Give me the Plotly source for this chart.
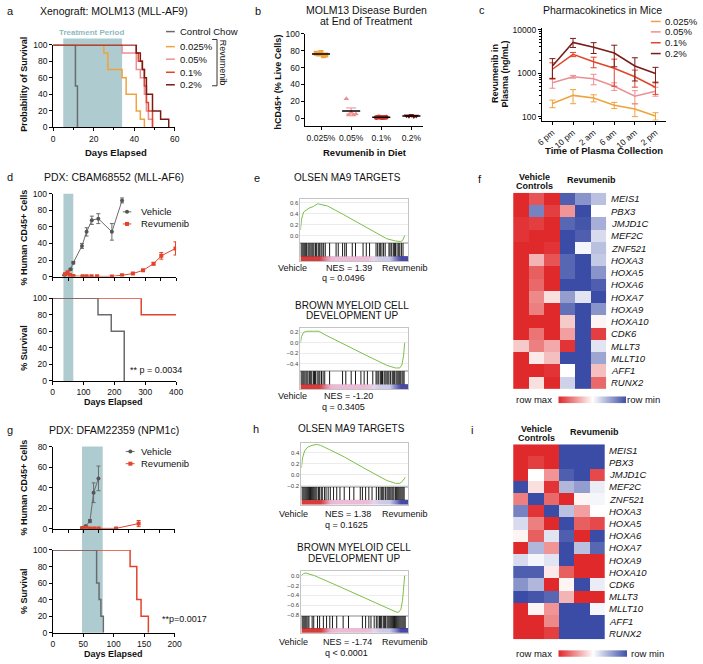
import plotly.graph_objects as go
import numpy as np

W, H = 703, 664
FONT = "Liberation Sans, Arial, sans-serif"

# ---------------- DATA ----------------
# a: survival (MOLM13 xenograft)
a_days_control = [0, 11, 12]
a_surv_control = [100, 50, 0]
a_days_025 = [0, 25, 27, 34, 36, 41, 43, 45]
a_surv_025 = [100, 90, 70, 60, 40, 20, 10, 0]
a_days_05 = [0, 34, 41, 43, 45, 46, 47, 49]
a_surv_05 = [100, 90, 70, 60, 40, 20, 10, 0]
a_days_1 = [0, 41, 42, 44, 45, 46, 47, 49]
a_surv_1 = [100, 90, 80, 70, 50, 30, 20, 0]
a_days_2 = [0, 41, 43, 44, 45, 46, 49, 53, 57]
a_surv_2 = [100, 90, 80, 70, 60, 40, 20, 10, 0]
a_treatment = [5, 34]
a_legend = ["Control Chow", "0.025%", "0.05%", "0.1%", "0.2%"]

# b: disease burden
b_groups = ["0.025%", "0.05%", "0.1%", "0.2%"]
b_vals_025 = [77, 76, 78, 74, 75]
b_vals_05 = [23, 4, 7, 4, 5]
b_vals_1 = [1.0, 1.5, 1.0, 0.8, 1.2]
b_vals_2 = [3.0, 2.5, 3.5, 2.0, 2.6]
b_jitter = [-0.16, -0.08, 0, 0.08, 0.16]

# c: pharmacokinetics
c_times = ["6 pm", "10 pm", "2 am", "6 am", "10 am", "2 pm"]
c_025 = [200, 308, 268, 183, 150, 103]
c_025_err = [40, 110, 50, 30, 50, 20]
c_05 = [600, 826, 740, 500, 295, 385]
c_05_err = [150, 60, 200, 100, 100, 90]
c_1 = [1230, 2700, 1830, 1300, 826, 475]
c_1_err = [500, 300, 500, 800, 350, 150]
c_2 = [1460, 5100, 3930, 2900, 1460, 980]
c_2_err = [700, 1200, 1100, 1500, 800, 380]

# d: PDX CBAM68552
d_veh_days = [38, 46, 58, 67, 95, 110, 127, 148, 192, 225]
d_veh_vals = [1.6, 3.6, 8.7, 16.7, 37, 54, 68, 70, 54, 92]
d_veh_err = [0.5, 1, 1, 1.5, 3, 5, 5, 6, 10, 3]
d_rev_days = [40, 49, 56, 67, 97, 110, 126, 144, 192, 225, 260, 293, 327, 352, 398]
d_rev_vals = [2.8, 4.8, 2, 0.8, 0.3, 0.3, 0.3, 0.3, 0.2, 1.6, 3.6, 7.5, 15.5, 25, 34]
d_rev_err = [1, 2, 1, 0.5, 0.3, 0.3, 0.3, 0.3, 0.3, 0.5, 1, 1, 1.5, 4, 8]
d_surv_veh_days = [0, 147, 190, 232]
d_surv_veh = [100, 80, 60, 0]
d_surv_rev_days = [0, 287, 400]
d_surv_rev = [100, 80, 80]
d_treatment = [35, 67]

# g: PDX DFAM22359
g_veh_days = [48, 54, 61, 67, 75]
g_veh_vals = [0.6, 2.4, 7.4, 35, 49]
g_veh_err = [0.3, 1, 1.5, 9.6, 12]
g_rev_days = [48, 55, 61, 68, 75, 104, 141]
g_rev_vals = [0.2, 1.0, 0.3, 0.3, 0.3, 0.3, 5]
g_rev_err = [0, 0, 0, 0, 0, 0.3, 3]
g_surv_veh_days = [0, 72, 76, 79, 83]
g_surv_veh = [100, 60, 40, 20, 0]
g_surv_rev_days = [0, 127, 138, 145, 157]
g_surv_rev = [100, 80, 40, 20, 0]
g_treatment = [48, 82]

# e / h: GSEA running enrichment (rank %, ES) and hit ranks
e1_rank = [0, 1, 3, 5, 8, 12, 16, 20, 25, 40, 60, 80, 88, 93, 95, 96.5]
e1_es = [0.1, 0.3, 0.43, 0.46, 0.5, 0.53, 0.58, 0.56, 0.54, 0.38, 0.16, -0.06, -0.1, -0.11, -0.08, 0.0]
e1_hits = [0.5, 1.5, 2.5, 3.5, 4.5, 5.5, 7, 8, 9, 10.5, 11.5, 12.5, 14, 15, 16.5, 17.5, 19, 20, 21.5, 23,
           27, 33, 35, 39, 41, 42.5, 48, 51, 58, 61, 64, 70, 71.5, 73, 74, 75.5, 77, 78.5,
           82, 83, 84.5, 86, 87, 88, 89.5, 91, 92, 93.5, 95]
e2_rank = [0, 1, 3, 6, 12, 17, 23, 40, 60, 80, 88, 92, 94, 95.5, 96.5]
e2_es = [0.0, 0.12, 0.2, 0.22, 0.22, 0.22, 0.15, -0.03, -0.23, -0.43, -0.48, -0.48, -0.42, -0.25, 0.0]
e2_hits = [0.5, 1.5, 2.5, 3.5, 5, 6, 7, 8.5, 9.5, 10.5, 12, 13, 14, 15.5, 17, 18, 19.5, 21, 22.5,
           27, 39, 42, 47, 51, 56, 59, 62, 67, 70, 71, 72.5, 74, 75, 76, 77.5, 78.5, 80, 81, 82, 83.5,
           85, 86, 87, 88.5, 89.5, 90.5, 91.5, 92.5, 94, 95, 96]
h1_rank = [0, 1, 3, 6, 10, 14, 18, 40, 60, 80, 88, 92, 95, 97]
h1_es = [0.12, 0.3, 0.43, 0.5, 0.53, 0.545, 0.53, 0.32, 0.1, -0.11, -0.16, -0.16, -0.11, -0.05]
h1_hits = [0.5, 1.5, 2.5, 3.5, 4.5, 5.5, 6.5, 7.5, 8.5, 9.5, 10.5, 11.5, 12.5, 13.5, 14.5, 16, 17, 18.5,
           19.5, 21.5, 23, 25, 27, 30, 33, 36, 40, 45, 49, 55, 57, 60, 63, 66, 70, 72, 73.5, 75, 76, 77,
           78.5, 80, 81, 82, 83, 84.5, 85.5, 86.5, 88, 89, 90, 91, 92, 93, 94, 95, 96]
h2_rank = [0, 2, 4, 8, 12, 30, 50, 70, 85, 89, 91, 93, 94.5, 95.5, 96.5]
h2_es = [0.0, 0.04, 0.05, 0.03, 0.0, -0.17, -0.36, -0.55, -0.69, -0.74, -0.74, -0.68, -0.5, -0.25, 0.0]
h2_hits = [0.5, 1.5, 2.5, 3.5, 4.5, 6, 7, 10, 11.5, 15, 17, 20.5, 23.5, 26.5, 29, 33, 39, 44, 57, 60,
           63, 65, 68, 70, 71.5, 73, 74, 75, 76.5, 77.5, 78.5, 80, 81, 82, 83, 84, 85, 86, 87, 88, 89,
           90, 91, 92, 93, 94, 95, 96, 97]
gsea_strip = [1, 1, 1, 1, 0.7, 0.35, 0.3, 0.3, 0.3, 0.3, 0.3, 0.3, 0.25, 0, -0.3, -0.35, -0.4, -0.7, -1, -1]

# f / i heatmaps (row-scaled expression, +1 = row max, -1 = row min)
genes = ["MEIS1", "PBX3", "JMJD1C", "MEF2C", "ZNF521", "HOXA3", "HOXA5", "HOXA6",
         "HOXA7", "HOXA9", "HOXA10", "CDK6", "MLLT3", "MLLT10", "AFF1", "RUNX2"]
f_vals = [
    [1, 0.8, 1, -0.9, -0.6, -0.35],
    [1, -0.7, 0.9, 0.5, -1, 0],
    [0.95, 0.9, 1, -0.85, -0.95, -0.45],
    [0.95, 1, 1, -1, -0.9, -0.2],
    [1, 1, 0.95, -1, -0.05, -0.35],
    [1, 0.35, 0.8, -0.85, -1, -0.3],
    [1, 0.75, 1, -0.85, -1, -0.6],
    [1, 0.7, 1, -1, -1, -0.9],
    [1, 0.55, 0.15, -0.55, -0.15, -1],
    [1, 0.6, 1, -0.8, -1, -0.6],
    [1, 1, 1, 0.25, -1, 0.05],
    [1, 0.65, 1, 0.45, -1, 0.9],
    [0.25, 0.6, 0.4, 0.95, -1, -0.15],
    [1, 0.1, 0.3, -1, -1, -0.5],
    [1, 1, 0.95, 0, -1, 0.3],
    [1, 0.15, 1, -0.25, -1, 0.7],
]
i_vals = [
    [1, 1, 1, -1, -1, -1],
    [1, 0.9, 1, -1, -1, -1],
    [1, 0, 0.5, -0.9, -1, 0.85],
    [-1, 0.15, 0.95, -0.4, -0.55, -0.1],
    [0.6, -1, 0.7, 1, 0.05, -0.05],
    [-0.7, 0.95, -1, -0.35, 0.45, 0],
    [-0.2, 0.6, 1, -1, 0.75, 0.85],
    [0.05, 0.75, -0.15, -0.9, 1, -1],
    [1, -0.4, 0.5, -1, -0.35, -0.85],
    [-0.2, -0.05, -0.15, -1, 1, 1],
    [-0.9, -0.9, 0.1, 0.75, 1, 1],
    [-0.6, -0.4, 1, 0.05, -1, -0.1],
    [-1, -0.95, -0.85, 0.35, 1, 1],
    [1, 0.05, 0.5, -1, -1, -0.05],
    [1, 1, 0.55, -1, -1, -1],
    [1, 1, 0.9, -1, -1, -1],
]

# ---------------- STYLE ----------------
GRAY = "#6a6b6e"
ORANGE = "#f0a23c"
PINK = "#ec8f94"
RED = "#e2432b"
DARK = "#7a1b17"
TEAL = "#aecbcf"
GREEN = "#7cbf4a"
HM_SCALE = [[0, "#3b4ca6"], [0.5, "#ffffff"], [1, "#e0292b"]]
STRIP_SCALE = [[0, "#4848a8"], [0.3, "#c8c8e8"], [0.5, "#e6d6ea"], [0.65, "#ecbcd6"],
               [0.8, "#e08ea6"], [1, "#d63c3c"]]

fig = go.Figure()
lay = {}
shapes = []
anns = []

base = dict(showline=True, linecolor="black", linewidth=1, ticks="outside", ticklen=3,
            tickwidth=1, tickcolor="black", showgrid=False, zeroline=False,
            tickfont=dict(family=FONT, size=8.5, color="#111"), fixedrange=True)


def axes(n, xd, yd, xkw=None, ykw=None):
    xs = "xaxis" if n == 1 else f"xaxis{n}"
    ys = "yaxis" if n == 1 else f"yaxis{n}"
    xr = "x" if n == 1 else f"x{n}"
    yr = "y" if n == 1 else f"y{n}"
    xa = dict(base)
    xa.update(domain=[xd[0] / W, xd[1] / W], anchor=yr)
    ya = dict(base)
    ya.update(domain=[1 - yd[1] / H, 1 - yd[0] / H], anchor=xr)
    if xkw:
        xa.update(xkw)
    if ykw:
        ya.update(ykw)
    lay[xs] = xa
    lay[ys] = ya
    return xr, yr


def T(text, x, y, size=9, color="#111", xanchor="center", angle=0):
    anns.append(dict(text=text, x=x / W, y=1 - y / H, xref="paper", yref="paper",
                     showarrow=False, xanchor=xanchor, yanchor="middle", textangle=angle,
                     borderpad=0, font=dict(family=FONT, size=size, color=color)))


def shade(xref, x0, x1, ytop, ybot):
    shapes.append(dict(type="rect", xref=xref, yref="paper", x0=x0, x1=x1,
                       y0=1 - ybot / H, y1=1 - ytop / H, fillcolor=TEAL,
                       line=dict(width=0), layer="below"))


# ---------------- a ----------------
xa, ya = axes(1, (48, 172), (40.3, 124.3),
              dict(range=[0, 60], dtick=20, tick0=0,
                   minor=dict(dtick=10, ticks="outside", ticklen=2, tickcolor="black")),
              dict(range=[0, 100], dtick=20))
shade(xa, a_treatment[0], a_treatment[1], 34, 124.3)
for d, s, c in [(a_days_control, a_surv_control, GRAY), (a_days_025, a_surv_025, ORANGE),
                (a_days_05, a_surv_05, PINK), (a_days_1, a_surv_1, RED), (a_days_2, a_surv_2, DARK)]:
    fig.add_trace(go.Scatter(x=d, y=s, mode="lines", line=dict(color=c, width=1.5, shape="hv"),
                             xaxis=xa, yaxis=ya))
T("a", 5, 6, 11)
T("Xenograft: MOLM13 (MLL-AF9)", 110, 6, 10.5)
T("<b>Treatment Period</b>", 87, 28, 8, color="#8fb9bd")
T("<b>Probability of Survival</b>", 18.3, 80, 9, angle=-90)
T("<b>Days Elapsed</b>", 112, 149.5, 9.5)
T("Revumenib", 221, 58.5, 9, angle=90)

# ---------------- b ----------------
xb, yb = axes(2, (305, 425), (29.3, 123.3),
              dict(range=[-0.52, 3.39], tickvals=[0, 1, 2, 3], ticktext=b_groups),
              dict(range=[-9.7, 100], tickvals=[0, 20, 40, 60, 80, 100]))
for i, (vals, sym, col) in enumerate([(b_vals_025, "square", ORANGE), (b_vals_05, "triangle-up", PINK),
                                      (b_vals_1, "circle", "#c8322a"), (b_vals_2, "triangle-down", DARK)]):
    fig.add_trace(go.Scatter(x=[i + j for j in b_jitter], y=vals, mode="markers",
                             marker=dict(symbol=sym, size=5, color=col), xaxis=xb, yaxis=yb))
    m = float(np.mean(vals))
    sem = float(np.std(vals, ddof=1) / np.sqrt(len(vals)))
    fig.add_trace(go.Scatter(x=[i], y=[m], mode="markers", marker=dict(size=1, opacity=0),
                             error_y=dict(type="data", array=[sem], color=col, thickness=1, width=5),
                             xaxis=xb, yaxis=yb))
    fig.add_trace(go.Scatter(x=[i - 0.3, i + 0.3], y=[m, m], mode="lines",
                             line=dict(color="black", width=1.5), xaxis=xb, yaxis=yb))
T("b", 257, 6, 11)
T("MOLM13 Disease Burden", 367, 5, 10.5)
T("at End of Treatment", 367, 16, 10.5)
T("<b>hCD45+ (% Live Cells)</b>", 276.7, 78, 9, angle=-90)
T("<b>Revumenib in Diet</b>", 366, 149.5, 9.5)

# ---------------- c ----------------
xc, yc = axes(3, (546, 672), (23.3, 117.3),
              dict(range=[-0.51, 5.49], tickvals=list(range(6)), ticktext=c_times, tickangle=-40),
              dict(type="log", range=[1.91, 4.04], tickvals=[100, 1000, 10000],
                   ticktext=["100", "1000", "10000"],
                   minor=dict(ticks="outside", ticklen=2, tickcolor="black", dtick="D1")))
for vals, err, col in [(c_025, c_025_err, ORANGE), (c_05, c_05_err, PINK), (c_1, c_1_err, RED),
                       (c_2, c_2_err, DARK)]:
    fig.add_trace(go.Scatter(x=list(range(6)), y=vals, mode="lines", line=dict(color=col, width=1.5),
                             error_y=dict(type="data", array=err, color=col, thickness=1, width=3),
                             xaxis=xc, yaxis=yc))
T("c", 485, 5, 11)
T("Pharmacokinetics in Mice", 608, 5.5, 10.5)
T("<b>Revumenib in</b>", 498.3, 70, 9, angle=-90)
T("<b>Plasma (ng/mL)</b>", 508, 70, 9, angle=-90)
T("<b>Time of Plasma Collection</b>", 609, 147.5, 9.5)

# ---------------- d ----------------
xd1, yd1 = axes(4, (47.5, 173.3), (191.7, 275.7),
                dict(range=[0, 400], dtick=50, showticklabels=False),
                dict(range=[0, 100], dtick=20))
xd2, yd2 = axes(5, (47.5, 173.3), (297.7, 381.7),
                dict(range=[0, 400], dtick=100), dict(range=[0, 100], dtick=20))
shade(xd2, d_treatment[0], d_treatment[1], 191.7, 381.7)
fig.add_trace(go.Scatter(x=d_veh_days, y=d_veh_vals, mode="lines+markers",
                         line=dict(color=GRAY, width=1), marker=dict(size=4, color="#555"),
                         error_y=dict(type="data", array=d_veh_err, color=GRAY, thickness=1, width=2),
                         xaxis=xd1, yaxis=yd1))
fig.add_trace(go.Scatter(x=d_rev_days, y=d_rev_vals, mode="lines+markers",
                         line=dict(color=RED, width=1), marker=dict(size=4, symbol="square", color=RED),
                         error_y=dict(type="data", array=d_rev_err, color=RED, thickness=1, width=2),
                         xaxis=xd1, yaxis=yd1))
fig.add_trace(go.Scatter(x=d_surv_rev_days, y=d_surv_rev, mode="lines",
                         line=dict(color=RED, width=1.5, shape="hv"), xaxis=xd2, yaxis=yd2))
fig.add_trace(go.Scatter(x=d_surv_veh_days, y=d_surv_veh, mode="lines",
                         line=dict(color=GRAY, width=1.5, shape="hv"), xaxis=xd2, yaxis=yd2))
T("d", 4, 175, 11)
T("PDX: CBAM68552 (MLL-AF6)", 110, 175, 10.5)
T("<b>% Human CD45+ Cells</b>", 18.3, 236, 9, angle=-90)
T("<b>% Survival</b>", 18.3, 348, 9, angle=-90)
T("<b>Days Elapsed</b>", 110, 402.8, 9)
T("Vehicle", 136.7, 210, 9.5, xanchor="left")
T("Revumenib", 136.7, 222.3, 9.5, xanchor="left")
T("** p = 0.0034", 153.3, 371, 9)

# ---------------- g ----------------
xg1, yg1 = axes(12, (47.7, 171.7), (448.3, 531.7),
                dict(range=[0, 200], dtick=25, showticklabels=False),
                dict(range=[0, 80], dtick=20))
xg2, yg2 = axes(13, (47.7, 171.7), (553.3, 637.3),
                dict(range=[0, 200], dtick=50), dict(range=[0, 100], dtick=20))
shade(xg2, g_treatment[0], g_treatment[1], 448.3, 637.3)
fig.add_trace(go.Scatter(x=g_veh_days, y=g_veh_vals, mode="lines+markers",
                         line=dict(color=GRAY, width=1), marker=dict(size=4, color="#555"),
                         error_y=dict(type="data", array=g_veh_err, color=GRAY, thickness=1, width=2),
                         xaxis=xg1, yaxis=yg1))
fig.add_trace(go.Scatter(x=g_rev_days, y=g_rev_vals, mode="lines+markers",
                         line=dict(color=RED, width=1), marker=dict(size=4, symbol="square", color=RED),
                         error_y=dict(type="data", array=g_rev_err, color=RED, thickness=1, width=2),
                         xaxis=xg1, yaxis=yg1))
fig.add_trace(go.Scatter(x=g_surv_rev_days, y=g_surv_rev, mode="lines",
                         line=dict(color=RED, width=1.5, shape="hv"), xaxis=xg2, yaxis=yg2))
fig.add_trace(go.Scatter(x=g_surv_veh_days, y=g_surv_veh, mode="lines",
                         line=dict(color=GRAY, width=1.5, shape="hv"), xaxis=xg2, yaxis=yg2))
T("g", 4, 431.7, 11)
T("PDX: DFAM22359 (NPM1c)", 110, 431.7, 10.5)
T("<b>% Human CD45+ Cells</b>", 18.3, 490, 9, angle=-90)
T("<b>% Survival</b>", 18.3, 595, 9, angle=-90)
T("<b>Days Elapsed</b>", 110, 658.8, 9)
T("Vehicle", 136.7, 453.3, 9.5, xanchor="left")
T("Revumenib", 136.7, 465.7, 9.5, xanchor="left")
T("**p=0.0017", 181.7, 623.3, 9)

# ---------------- GSEA (e, h) ----------------
gfont = dict(family=FONT, size=6, color="#444")
box = dict(linecolor="#c4c4c4", mirror=True, ticks="")


def gsea(n, xd, ytop, ymid, ybot, yrange, yticks, rank, es, hits):
    xr1, yr1 = axes(n, xd, (ytop, ymid), dict(range=[0, 100], showticklabels=False, **box),
                    dict(range=yrange, tickvals=yticks, tickformat=".1f", showgrid=True,
                         gridcolor="#ececec", tickfont=gfont, **box))
    xr2, yr2 = axes(n + 1, xd, (ymid, ybot), dict(range=[0, 100], showticklabels=False, **box),
                    dict(range=[0, 1], showticklabels=False, **box))
    fig.add_trace(go.Scatter(x=rank, y=es, mode="lines", line=dict(color=GREEN, width=1),
                             xaxis=xr1, yaxis=yr1))
    hx, hy = [], []
    for h in hits:
        hx += [h, h, None]
        hy += [0.26, 1, None]
    fig.add_trace(go.Scatter(x=hx, y=hy, mode="lines", line=dict(color="black", width=0.9),
                             xaxis=xr2, yaxis=yr2))
    fig.add_trace(go.Heatmap(z=[gsea_strip, gsea_strip], x=list(np.arange(2.5, 100, 5)),
                             y=[0.05, 0.2], zmin=-1, zmax=1, colorscale=STRIP_SCALE,
                             zsmooth="best", showscale=False, xaxis=xr2, yaxis=yr2))


gsea(6, (300, 410), 197.3, 241.7, 260, [-0.138, 0.66], [0, 0.2, 0.4, 0.6], e1_rank, e1_es, e1_hits)
gsea(8, (300, 410), 328.3, 371.7, 390, [-0.54, 0.275], [-0.4, -0.2, 0, 0.2], e2_rank, e2_es, e2_hits)
gsea(14, (301, 410), 445, 489, 507.3, [-0.22, 0.567], [-0.2, 0, 0.2, 0.4], h1_rank, h1_es, h1_hits)
gsea(16, (301, 410), 575, 620, 637.3, [-0.81, 0.085], [-0.8, -0.6, -0.4, -0.2, 0], h2_rank, h2_es, h2_hits)

T("e", 256, 176, 11)
T("OLSEN MA9 TARGETS", 348, 175, 10)
T("Vehicle", 292, 267.3, 9)
T("NES = 1.39", 349, 267.3, 9)
T("Revumenib", 407, 267.3, 9)
T("q = 0.0496", 344, 277.3, 9)
T("BROWN MYELOID CELL", 353, 305, 10)
T("DEVELOPMENT UP", 353, 315.7, 10)
T("Vehicle", 292, 396.7, 9)
T("NES = -1.20", 349, 396.7, 9)
T("q = 0.3405", 344, 407.7, 9)

T("h", 255, 430, 11)
T("OLSEN MA9 TARGETS", 352, 430, 10)
T("Vehicle", 293, 516.7, 9)
T("NES = 1.38", 348, 516.7, 9)
T("Revumenib", 407, 516.7, 9)
T("q = 0.1625", 347, 527.7, 9)
T("BROWN MYELOID CELL", 355, 551, 10)
T("DEVELOPMENT UP", 355, 561.7, 10)
T("Vehicle", 293, 646.7, 9)
T("NES = -1.74", 348, 646.7, 9)
T("Revumenib", 407, 646.7, 9)
T("q &lt; 0.0001", 347, 657.5, 9)

# ---------------- heatmaps (f, i) ----------------
hid = dict(visible=False)


def heat(n, xd, yd, vals, grad_xd, grad_yd):
    xr, yr = axes(n, xd, yd, dict(range=[-0.5, 5.5], **hid), dict(range=[15.5, -0.5], **hid))
    fig.add_trace(go.Heatmap(z=vals, x=list(range(6)), y=list(range(16)), zmin=-1, zmax=1,
                             colorscale=HM_SCALE, showscale=False, xaxis=xr, yaxis=yr))
    rowh = (yd[1] - yd[0]) / len(genes)
    for k, gname in enumerate(genes):
        T("<i>" + gname + "</i>", xd[1] + 3.5, yd[0] + rowh * (k + 0.5), 9.5, xanchor="left")
    xr2, yr2 = axes(n + 1, grad_xd, grad_yd, dict(range=[0, 1], **hid), dict(range=[0, 1], **hid))
    fig.add_trace(go.Heatmap(z=[[1, -1], [1, -1]], x=[0, 1], y=[0, 1], zmin=-1, zmax=1,
                             colorscale=HM_SCALE, zsmooth="best", showscale=False,
                             xaxis=xr2, yaxis=yr2))


heat(10, (516.7, 611.7), (190.7, 390), f_vals, (562.7, 631.7), (397.3, 404.3))
heat(18, (516.7, 610), (446, 644), i_vals, (562.7, 632.7), (655, 661.7))

T("f", 483, 177, 11)
T("<b>Vehicle</b>", 538.3, 175, 9)
T("<b>Controls</b>", 538.3, 184, 9)
T("<b>Revumenib</b>", 596.7, 177.3, 9)
T("row max", 538.3, 400.7, 9.5)
T("row min", 650, 400.7, 9.5)

T("i", 475, 431.7, 11)
T("<b>Vehicle</b>", 540.7, 430, 9)
T("<b>Controls</b>", 540.7, 439.3, 9)
T("<b>Revumenib</b>", 600, 433.3, 9)
T("row max", 538.3, 658, 9.5)
T("row min", 654, 658, 9.5)

# ---------------- legends (pixel overlay) ----------------
xo, yo = axes(20, (0, W), (0, H), dict(range=[0, W], **hid), dict(range=[H, 0], **hid))
for lbl, yy, col in zip(a_legend, [27, 42.3, 55, 68.3, 81], [GRAY, ORANGE, PINK, RED, DARK]):
    fig.add_trace(go.Scatter(x=[163, 172], y=[yy, yy], mode="lines", line=dict(color=col, width=1.5),
                             xaxis=xo, yaxis=yo))
    T(lbl, 176, yy, 9.5, xanchor="left")
fig.add_trace(go.Scatter(x=[210, 215, 215, 210], y=[35, 35, 82, 82], mode="lines",
                         line=dict(color="#333", width=1), xaxis=xo, yaxis=yo))
for lbl, yy, col in zip(b_groups, [16.7, 27.3, 38.3, 49.3], [ORANGE, PINK, RED, DARK]):
    fig.add_trace(go.Scatter(x=[657, 667], y=[yy, yy], mode="lines", line=dict(color=col, width=1.5),
                             xaxis=xo, yaxis=yo))
    T(lbl, 670, yy, 9.5, xanchor="left")
for (x0, x1, xm), ys in [((119, 127.7, 123.3), (210, 222.3)), ((122, 131, 126.7), (453.3, 465.7))]:
    fig.add_trace(go.Scatter(x=[x0, x1], y=[ys[0], ys[0]], mode="lines", line=dict(color=GRAY, width=1),
                             xaxis=xo, yaxis=yo))
    fig.add_trace(go.Scatter(x=[xm], y=[ys[0]], mode="markers", marker=dict(size=4, color="#555"),
                             xaxis=xo, yaxis=yo))
    fig.add_trace(go.Scatter(x=[x0, x1], y=[ys[1], ys[1]], mode="lines", line=dict(color=RED, width=1),
                             xaxis=xo, yaxis=yo))
    fig.add_trace(go.Scatter(x=[xm], y=[ys[1]], mode="markers",
                             marker=dict(size=4, symbol="square", color=RED), xaxis=xo, yaxis=yo))

fig.update_layout(width=W, height=H, margin=dict(l=0, r=0, t=0, b=0), showlegend=False,
                  paper_bgcolor="white", plot_bgcolor="rgba(0,0,0,0)", hovermode=False,
                  font=dict(family=FONT, color="#111"), shapes=shapes, annotations=anns, **lay)
fig.write_html("out.html", config={"displayModeBar": False, "staticPlot": True},
               post_script="document.body.style.margin='0px';document.body.style.padding='0px';"
                           "document.documentElement.style.overflow='hidden';")
